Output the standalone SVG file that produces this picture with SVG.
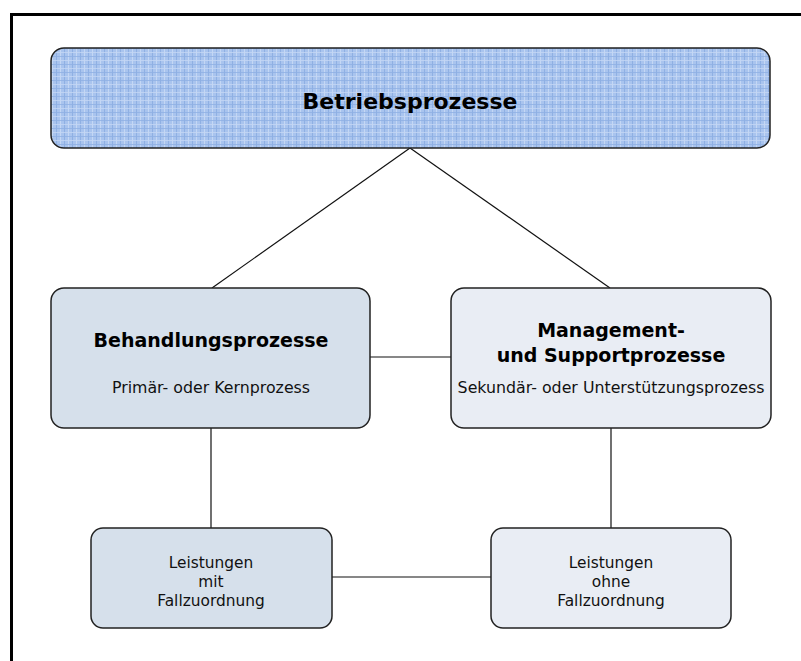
<svg xmlns="http://www.w3.org/2000/svg" width="801" height="661" viewBox="0 0 801 661">
  <style>
    .box { stroke: #222; stroke-width: 1.5; }
    .conn { stroke: #111; stroke-width: 1.2; fill: none; }
    text { font-family: "DejaVu Sans", Verdana, sans-serif; fill: #000; text-anchor: middle; }
    .title { font-size: 22px; font-weight: bold; }
    .head { font-size: 19px; font-weight: bold; }
    .sub { font-size: 15.8px; fill: #111; }
    .leaf { font-size: 15.4px; fill: #111; }
  </style>
  <defs>
    <pattern id="grid" width="8" height="8" patternUnits="userSpaceOnUse">
      <rect width="8" height="8" fill="#a9c4ee"/>
      <rect x="0" y="0" width="1" height="8" fill="#8fb0e3"/>
      <rect x="4" y="0" width="1" height="8" fill="#c4d7f4"/>
      <rect x="0" y="0" width="8" height="1" fill="#8fb0e3" fill-opacity="0.8"/>
      <rect x="0" y="4" width="8" height="1" fill="#c4d7f4" fill-opacity="0.8"/>
    </pattern>
  </defs>

  <rect width="801" height="661" fill="#fff"/>

  <!-- frame: top and left rule -->
  <path d="M11.5 661 V14.5 H801" fill="none" stroke="#000" stroke-width="3"/>

  <g id="connectors">
    <line class="conn" x1="410" y1="148" x2="212" y2="288"/>
    <line class="conn" x1="410" y1="148" x2="610" y2="288"/>
    <line class="conn" x1="370" y1="357" x2="451" y2="357"/>
    <line class="conn" x1="211" y1="428" x2="211" y2="528"/>
    <line class="conn" x1="611" y1="428" x2="611" y2="528"/>
    <line class="conn" x1="332" y1="577" x2="491" y2="577"/>
  </g>

  <g id="betriebsprozesse">
    <rect class="box" x="51" y="48" width="719" height="100" rx="13" fill="url(#grid)"/>
    <text class="title" x="410" y="109">Betriebsprozesse</text>
  </g>

  <g id="behandlungsprozesse">
    <rect class="box" x="51" y="288" width="319" height="140" rx="13" fill="#d6e0eb"/>
    <text class="head" x="211" y="347">Behandlungsprozesse</text>
    <text class="sub" x="211" y="393">Primär- oder Kernprozess</text>
  </g>

  <g id="management">
    <rect class="box" x="451" y="288" width="320" height="140" rx="13" fill="#e9edf4"/>
    <text class="head" x="611" y="337">Management-</text>
    <text class="head" x="611" y="362">und Supportprozesse</text>
    <text class="sub" x="611" y="393">Sekundär- oder Unterstützungsprozess</text>
  </g>

  <g id="leistungen-mit">
    <rect class="box" x="91" y="528" width="241" height="100" rx="12" fill="#d6e0eb"/>
    <text class="leaf" x="211" y="568">Leistungen</text>
    <text class="leaf" x="211" y="587">mit</text>
    <text class="leaf" x="211" y="606">Fallzuordnung</text>
  </g>

  <g id="leistungen-ohne">
    <rect class="box" x="491" y="528" width="240" height="100" rx="12" fill="#e9edf4"/>
    <text class="leaf" x="611" y="568">Leistungen</text>
    <text class="leaf" x="611" y="587">ohne</text>
    <text class="leaf" x="611" y="606">Fallzuordnung</text>
  </g>
</svg>
